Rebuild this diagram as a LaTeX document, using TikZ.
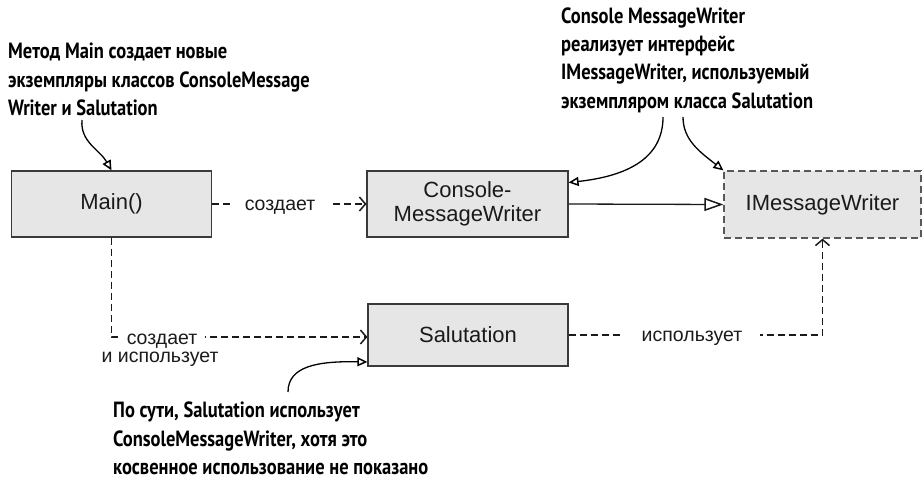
\documentclass[tikz,border=0pt]{standalone}
\usepackage{fontspec}
\setmainfont{Liberation Sans}
\newfontfamily\annot[FakeStretch=0.84]{PT Sans}
\usetikzlibrary{arrows.meta,calc}
\definecolor{boxfill}{HTML}{E6E6E6}
\definecolor{boxline}{HTML}{3A3A3A}
\definecolor{ink}{HTML}{1A1A1A}
\begin{document}
\begin{tikzpicture}[x=1pt,y=-1pt,
  box/.style={draw=boxline, fill=boxfill, line width=1.2pt, minimum width=200pt,
    minimum height=66pt, inner sep=0pt, text=ink,
    font=\fontsize{22}{24}\selectfont, align=center},
  lbl/.style={font=\fontsize{19.5}{20}\selectfont, text=ink, fill=white,
    inner xsep=14pt, inner ysep=3pt, anchor=base},
  lblplain/.style={font=\fontsize{19.5}{20}\selectfont, text=ink, inner sep=0pt, anchor=base},
  note/.style={font=\annot\bfseries\fontsize{22}{28}\selectfont, text=black,
    anchor=base west, inner sep=0pt},
  dep/.style={draw=ink, dash pattern=on 7pt off 4pt, line width=1.3pt,
    -{Straight Barb[length=6pt,width=14pt,line width=1.5pt]}},
  real/.style={draw=ink, line width=1.3pt,
    -{Triangle[open,length=19pt,width=13pt,line width=1.5pt]}},
  callout/.style={draw=black, line width=1.3pt,
    -{Triangle[open,length=10pt,width=9pt,line width=1.5pt]}}]

\useasboundingbox[fill=white] (0,0) rectangle (923,480);

% boxes
\node[box] (main) at (111.5,204) {Main()};
\node[box, minimum width=201pt] (cmw) at (467.5,204) {Console-\\MessageWriter};
\node[box, minimum width=197pt, minimum height=67pt, dash pattern=on 7pt off 4pt,
  draw=boxline!85] (imw) at (822.5,204.5) {IMessageWriter};
\node[box, minimum height=62pt] (sal) at (468,335) {Salutation};

% connectors
\draw[dep] (main.east) -- (cmw.west);
\node[lbl] (l1) at (280,210.5) {создает};

\draw[real] (cmw.east) -- (imw.west);

\draw[dep] (main.south) |- ($(sal.west)+(0,2)$);
\node[lbl, inner xsep=8pt, inner ysep=2pt] (l2) at (162,344) {создает};
\node[lblplain] (l3) at (160,362) {и использует};

\draw[dep] (sal.east) -| (imw.south);
\node[lbl, inner xsep=18pt] (l4) at (692,341) {использует};

% annotations
\node[note] (n1a) at (8,58.5) {Метод Main создает новые};
\node[note] (n1b) at (8,87) {экземпляры классов ConsoleMessage};
\node[note] (n1c) at (8,115) {Writer и Salutation};

\node[note] (n2a) at (561,23) {Console MessageWriter};
\node[note] (n2b) at (561,51) {реализует интерфейс};
\node[note] (n2c) at (561,79.5) {IMessageWriter, используемый};
\node[note] (n2d) at (561,108) {экземпляром класса Salutation};

\node[note] (n3a) at (113,417.5) {По сути, Salutation использует};
\node[note] (n3b) at (113,446) {ConsoleMessageWriter, хотя это};
\node[note] (n3c) at (113,474) {косвенное использование не показано};

\coordinate (c1) at (82,120);
\coordinate (c2) at (663,117);
\coordinate (c3) at (683,117);
\coordinate (c4) at (288,392);

\draw[callout] (c1) .. controls (80,142) and (100,150) .. (main.north);
\draw[callout] (c2) .. controls (663,158) and (628,176) .. (cmw.12);
\draw[callout] (c3) .. controls (683,140) and (700,152) .. (imw.north west);
\draw[callout] (c4) .. controls (288,366) and (318,361) .. (sal.195);
\end{tikzpicture}
\end{document}
